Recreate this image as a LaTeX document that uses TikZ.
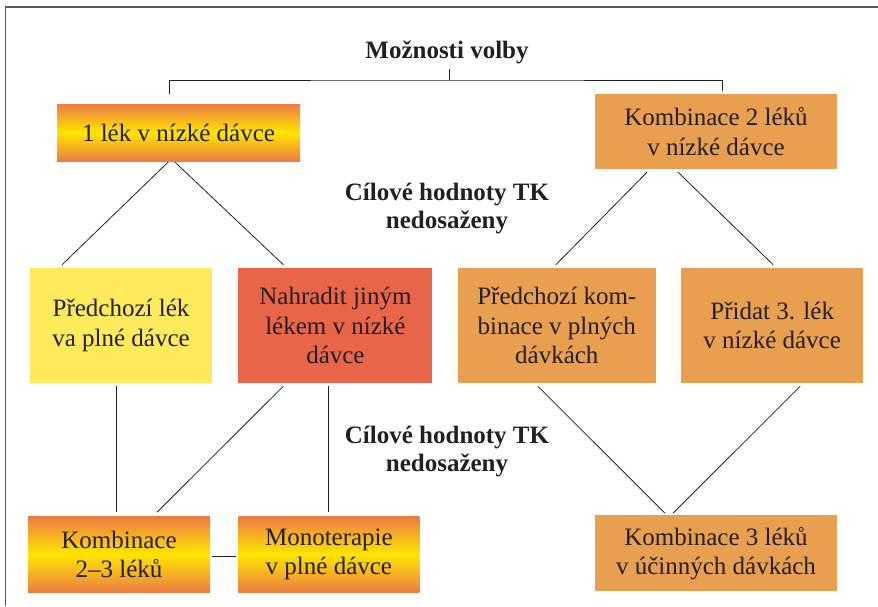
\documentclass[tikz,border=0pt]{standalone}
\usepackage{fontspec}
\setmainfont{Liberation Serif}
\usepackage{xcolor}
\usetikzlibrary{positioning}

\definecolor{inkdark}{HTML}{231F20}
\definecolor{framegray}{HTML}{5A5A5A}
\definecolor{gradorange}{HTML}{EC7C44}
\definecolor{gradyellow}{HTML}{FFE600}
\definecolor{boxorange}{HTML}{E8A050}
\definecolor{boxred}{HTML}{E8654A}
\definecolor{boxyellow}{HTML}{FFEA5C}

\newcommand\boxfont{\fontsize{25}{29.5}\selectfont}
\newcommand\notefont{\fontsize{25}{28}\selectfont\bfseries}

\begin{document}
\begin{tikzpicture}[x=1pt, y=-1pt,
  choice/.style={inner sep=0pt, align=center, font=\boxfont, text=inkdark},
  gradbox/.style={choice, top color=gradorange, bottom color=gradorange,
                  middle color=gradyellow, minimum height=76pt},
  orangebox/.style={choice, fill=boxorange},
  tallbox/.style={choice, minimum height=115pt},
  note/.style={inner sep=0pt, align=center, font=\notefont, text=inkdark},
  link/.style={draw=inkdark, line width=0.8pt}
]
\useasboundingbox (0,0) rectangle (878,606);
% frame
\draw[framegray, line width=1.4pt] (878,7) -- (5.5,7) -- (5.5,606);

% Title and the two options
\node[note] (title) at (447,52) {Možnosti volby};
\coordinate (fork) at (449,80);

\node[gradbox, minimum width=243pt, minimum height=57pt] (lowA) at (178.5,132.5)
  {1 lék v nízké dávce};
\node[orangebox, minimum width=242pt, minimum height=75pt] (combo2) at (716,131.5)
  {Kombinace 2 léků\\v nízké dávce};

\draw[link] (fork) -- ++(0,-11);
\draw[link] ([xshift=-9.5pt,yshift=10pt]lowA.north) |- (fork)
  -| ([xshift=6pt,yshift=3pt]combo2.north);

\node[note] (goalA) at (447,209) {Cílové hodnoty TK\\nedosaženy};

% Second row
\node[tallbox, fill=boxyellow, minimum width=182pt] (prevY) at (121,325.5)
  {Předchozí lék\\va plné dávce};
\node[tallbox, fill=boxred, minimum width=194pt, right=26pt of prevY] (swap)
  {Nahradit jiným\\lékem v nízké\\dávce};
\node[tallbox, fill=boxorange, minimum width=198pt, right=25pt of swap] (prevC)
  {Předchozí kom-\\binace v plných\\dávkách};
\node[tallbox, fill=boxorange, minimum width=182pt, right=25pt of prevC] (add3)
  {Přidat 3. lék\\v nízké dávce};

\draw[link] ([xshift=-10.5pt,yshift=-1pt]lowA.south) -- ([xshift=-59pt,yshift=3pt]prevY.north);
\draw[link] ([xshift=-3.5pt,yshift=-1pt]lowA.south) -- ([xshift=-52pt,yshift=3pt]swap.north);
\draw[link] ([xshift=-69pt,yshift=-3pt]combo2.south) -- ([xshift=-1pt,yshift=3pt]prevC.north);
\draw[link] ([xshift=-38pt,yshift=-3pt]combo2.south) -- ([xshift=1pt,yshift=3pt]add3.north);

\node[note] (goalB) at (447,452) {Cílové hodnoty TK\\nedosaženy};

% Bottom row
\node[gradbox, minimum width=182pt, below=133pt of prevY, xshift=-2pt] (combo23)
  {Kombinace\\2--3 léků};
\node[gradbox, minimum width=181pt, right=28pt of combo23] (mono)
  {Monoterapie\\v plné dávce};
\node[orangebox, minimum width=242pt, minimum height=76pt, below=346pt of combo2] (combo3)
  {Kombinace 3 léků\\v účinných dávkách};

\draw[link] ([xshift=-5pt,yshift=-3pt]prevY.south) -- ([xshift=-3pt,yshift=4pt]combo23.north);
\draw[link] ([xshift=-52pt,yshift=-3pt]swap.south) -- ([xshift=38pt,yshift=4pt]combo23.north);
\draw[link] ([xshift=-7pt,yshift=-3pt]swap.south) -- ([xshift=-0.5pt,yshift=4pt]mono.north);
\draw[link] ([xshift=2pt,yshift=-2pt]combo23.east) -- ([xshift=-2pt,yshift=-2pt]mono.west);
\draw[link] ([xshift=-19pt,yshift=-3pt]prevC.south) -- ([xshift=-51pt,yshift=2pt]combo3.north);
\draw[link] ([xshift=28pt,yshift=-3pt]add3.south) -- ([xshift=-43pt,yshift=2pt]combo3.north);
\end{tikzpicture}
\end{document}
